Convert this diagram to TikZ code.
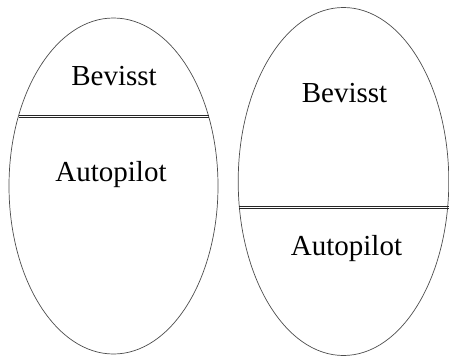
\documentclass[tikz,border=0pt]{standalone}
\usepackage{fontspec}
\setmainfont{Liberation Serif}
\begin{document}
\begin{tikzpicture}[x=1pt,y=-1pt,
  egg/.style={draw=black!70,line width=0.7pt},
  splitline/.style={draw=black!85,line width=0.7pt},
  lbl/.style={anchor=base,inner sep=0pt,font=\fontsize{29}{33}\selectfont}]
\useasboundingbox (0,0) rectangle (449,356);
\draw[egg] (113.5,186) ellipse [x radius=104.5, y radius=168];
\draw[egg] (343.5,181.5) ellipse [x radius=105.3, y radius=174];
\coordinate (l1) at (18.6,116);
\coordinate (l2) at (208.5,116);
\coordinate (r1) at (239,207);
\coordinate (r2) at (449,207);
\draw[splitline] ([yshift=1.1pt]l1) -- ([yshift=1.1pt]l2);
\draw[splitline] ([yshift=-1.1pt]l1) -- ([yshift=-1.1pt]l2);
\draw[splitline] ([yshift=1.1pt]r1) -- ([yshift=1.1pt]r2);
\draw[splitline] ([yshift=-1.1pt]r1) -- ([yshift=-1.1pt]r2);
\node[lbl] (lb) at (114,85) {Bevisst};
\node[lbl] (la) at (111,181) {Autopilot};
\node[lbl] (rb) at (344.5,102) {Bevisst};
\node[lbl] (ra) at (346.5,255) {Autopilot};
\end{tikzpicture}
\end{document}
